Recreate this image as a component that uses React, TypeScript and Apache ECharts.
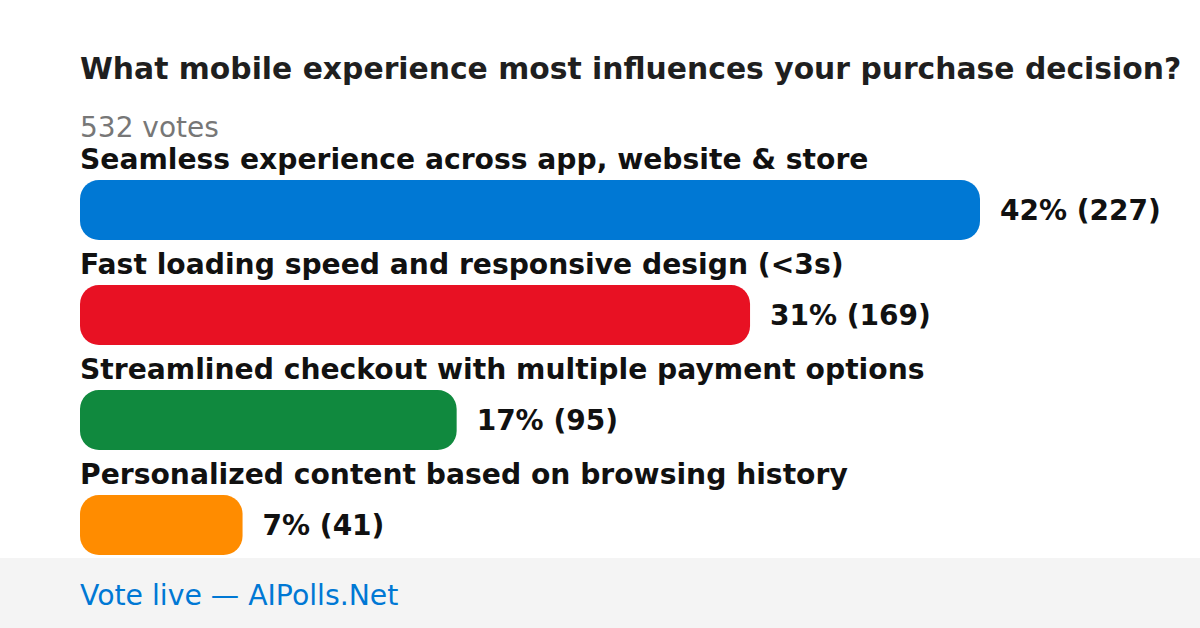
import React, { useEffect, useRef } from "react";
import * as echarts from "echarts";

const titleText = "What mobile experience most influences your purchase decision?";
const votesText = "532 votes";
const footerText = "Vote live \u2014 AIPolls.Net";
const categories = [
  "Seamless experience across app, website & store",
  "Fast loading speed and responsive design (<3s)",
  "Streamlined checkout with multiple payment options",
  "Personalized content based on browsing history",
];
const counts = [227, 169, 95, 41];
const percents = [42, 31, 17, 7];
const colors = ["#0078d4", "#e81123", "#10893e", "#ff8c00"];

const FONT = "DejaVu Sans";

export default function App() {
  const ref = useRef<HTMLDivElement>(null);
  useEffect(() => {
    document.body.style.margin = "0";
    const chart = echarts.init(ref.current!, null, { renderer: "svg" });
    chart.setOption({
      animation: false,
      backgroundColor: "#ffffff",
      grid: { left: 80, width: 900, top: 157.5, height: 420 },
      xAxis: {
        type: "value",
        min: 0,
        max: Math.max(...counts),
        show: false,
      },
      yAxis: {
        type: "category",
        data: categories,
        inverse: true,
        show: false,
      },
      graphic: [
        {
          type: "rect",
          left: 0,
          top: 558,
          shape: { width: 1200, height: 70 },
          style: { fill: "#f4f4f4" },
          z: -1,
        },
        {
          type: "text",
          left: 80,
          top: 595 - 14,
          style: { text: footerText, font: `28.3px '${FONT}'`, fill: "#0078d4" },
        },
        {
          type: "text",
          left: 80,
          top: 53,
          style: { text: titleText, font: `bold 29.8px '${FONT}'`, fill: "#1f1f1f" },
        },
        {
          type: "text",
          left: 80,
          top: 113,
          style: { text: votesText, font: `28px '${FONT}'`, fill: "#777777" },
        },
      ],
      series: [
        {
          type: "bar",
          barWidth: 60,
          data: counts.map((v, i) => ({
            value: v,
            itemStyle: { color: colors[i], borderRadius: 19 },
          })),
          label: {
            show: true,
            position: [0, -21],
            align: "left",
            verticalAlign: "middle",
            formatter: (p: any) => categories[p.dataIndex],
            fontFamily: FONT,
            fontWeight: "bold",
            fontSize: 28.2,
            color: "#111111",
          },
          z: 2,
        },
        {
          type: "bar",
          barWidth: 60,
          barGap: "-100%",
          data: counts,
          itemStyle: { color: "rgba(0,0,0,0)" },
          label: {
            show: true,
            position: "right",
            distance: 20,
            formatter: (p: any) => `${percents[p.dataIndex]}% (${counts[p.dataIndex]})`,
            fontFamily: FONT,
            fontWeight: "bold",
            fontSize: 28,
            color: "#111111",
          },
          z: 3,
        },
      ],
    });
    return () => chart.dispose();
  }, []);
  return <div ref={ref} style={{ width: 1200, height: 628 }} />;
}
